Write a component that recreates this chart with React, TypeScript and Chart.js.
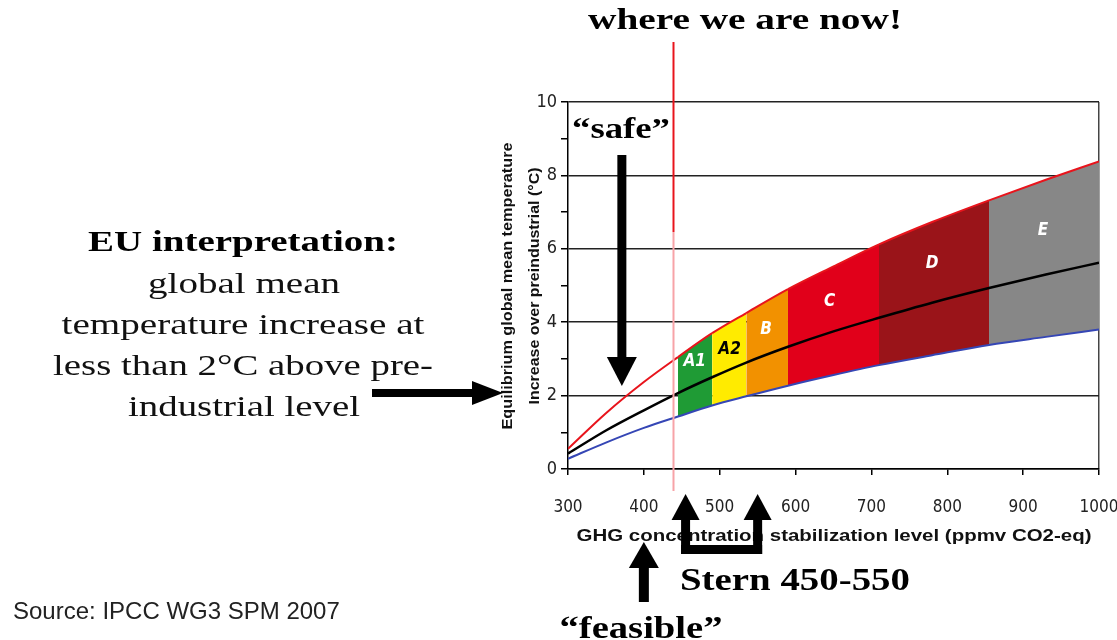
import React, { useEffect, useRef } from 'react';
import { Chart, registerables } from 'chart.js';

Chart.register(...registerables);

// ---- data ----
const xPoints = [300, 350, 400, 445, 490, 535, 590, 650, 710, 780, 855, 930, 1000];
const upperValues = [0.55, 1.52, 2.37, 3.05, 3.7, 4.25, 4.9, 5.52, 6.12, 6.73, 7.32, 7.88, 8.38];
const medianValues = [0.42, 1.05, 1.6, 2.07, 2.5, 2.9, 3.33, 3.75, 4.12, 4.53, 4.93, 5.3, 5.62];
const lowerValues = [0.28, 0.72, 1.12, 1.43, 1.73, 1.98, 2.27, 2.56, 2.83, 3.1, 3.38, 3.6, 3.8];

const categoryNames = ['A1', 'A2', 'B', 'C', 'D', 'E'];
const categoryStarts = [445, 490, 535, 590, 710, 855];
const categoryEnds = [490, 535, 590, 710, 855, 1000];
const categoryColors = ['#1f9b35', '#ffeb00', '#f29100', '#e1001a', '#9a1419', '#878787'];
const categoryLabelColors = ['#ffffff', '#000000', '#ffffff', '#ffffff', '#ffffff', '#ffffff'];
const categoryLabelX = [467, 513, 561, 645, 780, 926];
const categoryLabelY = [2.92, 3.25, 3.8, 4.55, 5.6, 6.5];

const xMin = 300;
const xMax = 1000;
const xStep = 100;
const yMin = 0;
const yMax = 10;
const yLabelStep = 2;
const currentLevel = 438;
const safeLevel = 371;
const feasibleLevel = 400;
const sternLow = 455;
const sternHigh = 550;

const SERIF = "'Liberation Serif', 'Times New Roman', serif";
const SANS = "'Liberation Sans', Arial, sans-serif";
const NARROW = "'DejaVu Sans Condensed', 'Liberation Sans', sans-serif";

function categoryColorAt(x: number): string {
  for (let i = 0; i < categoryNames.length; i++) {
    if (x >= categoryStarts[i] - 0.001 && x < categoryEnds[i] - 0.001) return categoryColors[i];
  }
  return 'rgba(0,0,0,0)';
}

function fitText(
  ctx: CanvasRenderingContext2D,
  text: string,
  cx: number,
  cy: number,
  font: string,
  width: number,
  color = '#000',
  rotate = 0
) {
  ctx.save();
  ctx.font = font;
  const w = ctx.measureText(text).width;
  const sx = width / w;
  ctx.translate(cx, cy);
  if (rotate) ctx.rotate(rotate);
  ctx.scale(sx, 1);
  ctx.textAlign = 'center';
  ctx.textBaseline = 'middle';
  ctx.fillStyle = color;
  ctx.fillText(text, 0, 0);
  ctx.restore();
}

function poly(ctx: CanvasRenderingContext2D, pts: number[][]) {
  ctx.beginPath();
  ctx.moveTo(pts[0][0], pts[0][1]);
  for (let i = 1; i < pts.length; i++) ctx.lineTo(pts[i][0], pts[i][1]);
  ctx.closePath();
  ctx.fill();
}

export default function App() {
  const ref = useRef<HTMLCanvasElement>(null);

  useEffect(() => {
    const canvas = ref.current;
    if (!canvas) return;

    const toXY = (ys: number[]) => xPoints.map((x, i) => ({ x, y: ys[i] }));

    const annotations = {
      id: 'annotations',
      afterDatasetsDraw(chart: any) {
        const ctx = chart.ctx as CanvasRenderingContext2D;
        const xs = chart.scales.x;
        const ys = chart.scales.y;
        // band labels
        ctx.save();
        for (let i = 0; i < categoryNames.length; i++) {
          ctx.font = `italic bold 17px ${NARROW}`;
          ctx.textAlign = 'center';
          ctx.textBaseline = 'middle';
          ctx.fillStyle = categoryLabelColors[i];
          ctx.fillText(categoryNames[i], xs.getPixelForValue(categoryLabelX[i]), ys.getPixelForValue(categoryLabelY[i]));
        }
        ctx.restore();
        // "where we are now" vertical line
        const px = Math.round(xs.getPixelForValue(currentLevel)) + 0.5;
        ctx.save();
        ctx.lineWidth = 2;
        ctx.strokeStyle = '#e8141c';
        ctx.beginPath();
        ctx.moveTo(px, 42);
        ctx.lineTo(px, 232);
        ctx.stroke();
        ctx.strokeStyle = '#f7a3a8';
        ctx.beginPath();
        ctx.moveTo(px, 232);
        ctx.lineTo(px, 491);
        ctx.stroke();
        ctx.restore();
      },
      afterDraw(chart: any) {
        const ctx = chart.ctx as CanvasRenderingContext2D;
        const xs = chart.scales.x;
        // axis titles
        fitText(ctx, 'Equilibrium global mean temperature', 508, 286, `bold 14px ${SANS}`, 287, '#111', -Math.PI / 2);
        fitText(ctx, 'Increase over preindustrial (°C)', 535, 286, `bold 14px ${SANS}`, 237, '#111', -Math.PI / 2);
        fitText(ctx, 'GHG concentration stabilization level (ppmv CO2-eq)', 834, 537, `bold 16px ${SANS}`, 515, '#111');

        // headline texts
        fitText(ctx, 'where we are now!', 745, 21, `bold 30px ${SERIF}`, 314);
        fitText(ctx, '\u201Csafe\u201D', 621, 130, `bold 30px ${SERIF}`, 98);
        fitText(ctx, 'Stern 450-550', 795, 582, `bold 31px ${SERIF}`, 230);
        fitText(ctx, '\u201Cfeasible\u201D', 641, 630, `bold 31px ${SERIF}`, 163);

        // left explanation
        fitText(ctx, 'EU interpretation:', 243, 243, `bold 30px ${SERIF}`, 310);
        fitText(ctx, 'global mean', 244, 285, `30px ${SERIF}`, 192, '#111');
        fitText(ctx, 'temperature increase at', 243, 326, `30px ${SERIF}`, 363, '#111');
        fitText(ctx, 'less than 2°C above pre-', 243, 367, `30px ${SERIF}`, 380, '#111');
        fitText(ctx, 'industrial level', 244, 408, `30px ${SERIF}`, 232, '#111');

        // source
        ctx.save();
        ctx.font = `24px ${SANS}`;
        ctx.fillStyle = '#222';
        ctx.textAlign = 'left';
        ctx.textBaseline = 'alphabetic';
        ctx.fillText('Source: IPCC WG3 SPM 2007', 13, 619);
        ctx.restore();

        // arrows
        ctx.save();
        ctx.fillStyle = '#000';
        // safe: down arrow
        const sx = xs.getPixelForValue(safeLevel);
        ctx.fillRect(sx - 4.5, 155, 9, 205);
        poly(ctx, [[sx - 15, 357], [sx + 15, 357], [sx, 386]]);
        // EU: right arrow
        ctx.fillRect(372, 389, 103, 8);
        poly(ctx, [[472, 381], [472, 405], [503, 393]]);
        // Stern bracket
        const l = xs.getPixelForValue(sternLow);
        const r = xs.getPixelForValue(sternHigh);
        ctx.fillRect(l - 4.5, 518, 9, 36);
        ctx.fillRect(r - 4.5, 518, 9, 36);
        ctx.fillRect(l - 4.5, 545, r - l + 9, 9);
        poly(ctx, [[l - 14, 520], [l + 14, 520], [l, 494]]);
        poly(ctx, [[r - 14, 520], [r + 14, 520], [r, 494]]);
        // feasible: up arrow
        const f = xs.getPixelForValue(feasibleLevel);
        ctx.fillRect(f - 5, 566, 10, 36);
        poly(ctx, [[f - 15, 568], [f + 15, 568], [f, 542]]);
        ctx.restore();
      },
    };

    const chart = new Chart(canvas, {
      type: 'line',
      data: {
        datasets: [
          {
            label: 'upper',
            data: toXY(upperValues),
            borderColor: '#e8141c',
            borderWidth: 2,
            pointRadius: 0,
            cubicInterpolationMode: 'monotone',
            fill: { target: 2 },
            backgroundColor: 'rgba(0,0,0,0)',
            segment: {
              backgroundColor: (c: any) => categoryColorAt(c.p0.parsed.x),
            },
          } as any,
          {
            label: 'median',
            data: toXY(medianValues),
            borderColor: '#000000',
            borderWidth: 2.5,
            pointRadius: 0,
            cubicInterpolationMode: 'monotone',
            fill: false,
          },
          {
            label: 'lower',
            data: toXY(lowerValues),
            borderColor: '#3546b5',
            borderWidth: 2,
            pointRadius: 0,
            cubicInterpolationMode: 'monotone',
            fill: false,
          },
        ],
      },
      options: {
        responsive: false,
        devicePixelRatio: 1,
        animation: false,
        events: [],
        layout: { padding: { top: 102, right: 18, left: 0, bottom: 0 } },
        plugins: {
          legend: { display: false },
          tooltip: { enabled: false },
          filler: { drawTime: 'beforeDatasetsDraw' },
        } as any,
        scales: {
          x: {
            type: 'linear',
            min: xMin,
            max: xMax,
            afterFit: (scale: any) => {
              scale.height = 171;
              scale.paddingLeft = 0;
              scale.paddingRight = 0;
            },
            border: { display: true, color: '#000', width: 1.5 },
            grid: {
              drawOnChartArea: true,
              color: (c: any) => (c.tick && c.tick.value === xMax ? '#444' : 'rgba(0,0,0,0)'),
              lineWidth: 1.5,
              tickColor: '#000',
              tickLength: 6,
            },
            ticks: {
              stepSize: xStep,
              padding: 22,
              color: '#222',
              font: { family: NARROW, size: 17 },
              maxRotation: 0,
              callback: (v: any) => String(v),
            },
          },
          y: {
            type: 'linear',
            min: yMin,
            max: yMax,
            afterFit: (scale: any) => {
              scale.width = 568;
              scale.paddingTop = 0;
              scale.paddingBottom = 0;
            },
            border: { display: true, color: '#000', width: 1.5 },
            grid: {
              color: (c: any) => (c.tick && c.tick.value % yLabelStep === 0 ? '#222' : 'rgba(0,0,0,0)'),
              lineWidth: 1.5,
              tickColor: '#000',
              tickLength: 7,
            },
            ticks: {
              stepSize: 1,
              padding: 4,
              color: '#222',
              font: { family: NARROW, size: 18 },
              callback: (v: any) => (Number(v) % yLabelStep === 0 ? String(v) : ''),
            },
          },
        },
      },
      plugins: [annotations],
    });

    return () => chart.destroy();
  }, []);

  return (
    <div style={{ position: 'fixed', left: 0, top: 0, width: 1117, height: 640, background: '#fff' }}>
      <canvas ref={ref} width={1117} height={640} style={{ display: 'block' }} />
    </div>
  );
}
